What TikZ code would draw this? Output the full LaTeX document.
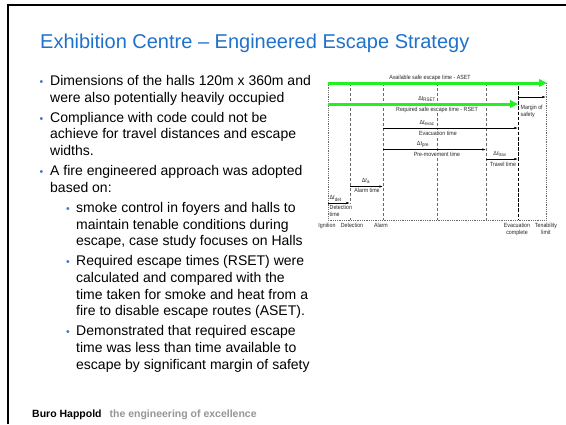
\documentclass[tikz,border=0pt]{standalone}
\usepackage{fontspec}
\setmainfont{Liberation Sans}
\newfontfamily\diafont[FakeStretch=0.88]{Liberation Sans}
\usetikzlibrary{arrows.meta}
\definecolor{titleblue}{RGB}{31,114,204}
\definecolor{bulletblue}{RGB}{60,120,200}
\definecolor{footgray}{RGB}{150,150,150}
\definecolor{asetgreen}{RGB}{34,240,34}
\definecolor{guidegray}{RGB}{105,105,105}

\tikzset{
  body/.style={font=\fontsize{14}{16}\selectfont, anchor=base west, inner sep=0pt},
  bul/.style={font=\fontsize{10.5}{12}\selectfont, text=bulletblue, anchor=base west, inner sep=0pt},
  lab/.style={font=\diafont\fontsize{6}{6.6}\selectfont, inner sep=0.5pt, fill=white,
              text=black!85, text height=4.4pt, text depth=1.2pt},
  labtwo/.style={font=\diafont\fontsize{6}{7.4}\selectfont, inner sep=0.5pt, fill=white,
              text=black!85},
  guide/.style={draw=guidegray, line width=0.5pt, dash pattern=on 3pt off 2pt},
  framedot/.style={draw=guidegray, line width=0.5pt, dash pattern=on 0.6pt off 1.2pt},
  evacline/.style={draw=black, line width=0.8pt, dash pattern=on 3.5pt off 1.6pt},
  safetime/.style={draw=asetgreen, line width=3pt, -{Triangle[length=8pt,width=7.5pt]}},
  span/.style={draw=black, line width=0.55pt, -{Latex[length=3.6pt,width=2.2pt]}}
}

\begin{document}
\begin{tikzpicture}[x=1pt,y=-1pt]
\useasboundingbox (0,0) rectangle (566,424);
\fill[white] (0,0) rectangle (566,424);

% slide edge
\draw[line width=1.5pt] (8,424) -- (8,5) -- (566,5);

% heading
\node[font=\fontsize{20}{24}\selectfont, text=titleblue, anchor=base west, inner sep=0pt]
  (title) at (40,48) {Exhibition Centre – Engineered Escape Strategy};

% bullet list
\node[bul] (b1) at (39.5,85.5) {•};
\node[body] (l1)  at (50,85.5)  {Dimensions of the halls 120m x 360m and};
\node[body] (l2)  at (50,102.1) {were also potentially heavily occupied};
\node[bul] (b2) at (39.5,122.3) {•};
\node[body] (l3)  at (50,122.3) {Compliance with code could not be};
\node[body] (l4)  at (50,138.9) {achieve for travel distances and escape};
\node[body] (l5)  at (50,155.5) {widths.};
\node[bul] (b3) at (39.5,175.7) {•};
\node[body] (l6)  at (50,175.7) {A fire engineered approach was adopted};
\node[body] (l7)  at (50,192.3) {based on:};
\node[bul] (s1) at (66,212.5) {•};
\node[body] (l8)  at (76,212.5) {smoke control in foyers and halls to};
\node[body] (l9)  at (76,229.1) {maintain tenable conditions during};
\node[body] (l10) at (76,245.7) {escape, case study focuses on Halls};
\node[bul] (s2) at (66,265.9) {•};
\node[body] (l11) at (76,265.9) {Required escape times (RSET) were};
\node[body] (l12) at (76,282.5) {calculated and compared with the};
\node[body] (l13) at (76,299.1) {time taken for smoke and heat from a};
\node[body] (l14) at (76,315.7) {fire to disable escape routes (ASET).};
\node[bul] (s3) at (66,335.9) {•};
\node[body] (l15) at (76,335.9) {Demonstrated that required escape};
\node[body] (l16) at (76,352.5) {time was less than time available to};
\node[body] (l17) at (76,369.1) {escape by significant margin of safety};

% footer
\node[font=\fontsize{10.5}{12}\selectfont\bfseries, anchor=base west, inner sep=0pt]
  (foot) at (32,417) {Buro Happold\hspace{8pt}\textcolor{footgray}{the engineering of excellence}};

% ---- timeline chart ----
% event lines
\coordinate (tIg) at (328,83);  \coordinate (bIg) at (328,220);
\coordinate (tDe) at (350,83);  \coordinate (bDe) at (350,220);
\coordinate (tAl) at (383,83);  \coordinate (bAl) at (383,220);
\coordinate (tMi) at (437,83);  \coordinate (bMi) at (437,220);
\coordinate (tPm) at (486,83);  \coordinate (bPm) at (486,220);
\coordinate (tEv) at (518,86);  \coordinate (bEv) at (518,220);
\coordinate (tTe) at (546,83);  \coordinate (bTe) at (546,220);

\draw[framedot] (tIg) -- (bIg) -- (bTe) -- (tTe);
\draw[guide] (tDe) -- (bDe);
\draw[guide] (tAl) -- (bAl);
\draw[guide] (tMi) -- (bMi);
\draw[guide] (tPm) -- (bPm);
\draw[evacline] (tEv) -- (bEv);

% interval labels
\node[lab] (asetL) at (430,77.5) {Available safe escape time - ASET};
\node[lab] (dRset) at (427,98.5) {Δ\textit{t}\textsubscript{RSET}};
\node[lab] (rsetL) at (437,109.5) {Required safe escape time - RSET};
\node[labtwo, anchor=north west, align=left] (marL) at (520,104) {Margin of\\safety};
\node[lab] (dEvac) at (427,123) {Δ\textit{t}\textsubscript{evac}};
\node[lab] (evacL) at (438,133.5) {Evacuation time};
\node[lab] (dPre) at (423,144) {Δ\textit{t}\textsubscript{pre}};
\node[lab] (preL) at (437,155) {Pre-movement time};
\node[lab] (dTrav) at (500,154) {Δ\textit{t}\textsubscript{trav}};
\node[lab] (travL) at (503,165) {Travel time};
\node[lab] (dAl) at (366,181) {Δ\textit{t}\textsubscript{a}};
\node[lab] (alL) at (367,191) {Alarm time};
\node[lab, anchor=west] (dDet) at (329,198) {Δ\textit{t}\textsubscript{det}};
\node[labtwo, anchor=north west, align=left] (detL) at (329,204) {Detection\\time};

% event names
\node[lab, fill=none] (evIg) at (327,226) {Ignition};
\node[lab, fill=none] (evDe) at (352,226) {Detection};
\node[lab, fill=none] (evAl) at (381,226) {Alarm};
\node[labtwo, fill=none, anchor=north, align=center] (evEv) at (517,222.5) {Evacuation\\complete};
\node[labtwo, fill=none, anchor=north, align=center] (evTe) at (546,222.5) {Tenability\\limit};

% intervals
\coordinate (asetS) at (328,83);   \coordinate (asetE) at (547,83);
\coordinate (rsetS) at (328,104);  \coordinate (rsetE) at (518,104);
\coordinate (marS) at (518,97);    \coordinate (marE) at (546,97);
\coordinate (evacS) at (383,128);  \coordinate (evacE) at (518,128);
\coordinate (preS) at (383,149.5); \coordinate (preE) at (486,149.5);
\coordinate (travS) at (486,159);  \coordinate (travE) at (518,159);
\coordinate (alS) at (350,186.5);  \coordinate (alE) at (383,186.5);
\coordinate (detS) at (328,203);   \coordinate (detE) at (350,203);

\draw[safetime] (asetS) -- (asetE);
\draw[safetime] (rsetS) -- (rsetE);
\draw[span] (marS) -- (marE);
\draw[span] (evacS) -- (evacE);
\draw[span] (preS) -- (preE);
\draw[span] (travS) -- (travE);
\draw[span] (alS) -- (alE);
\draw[span] (detS) -- (detE);
\end{tikzpicture}
\end{document}
